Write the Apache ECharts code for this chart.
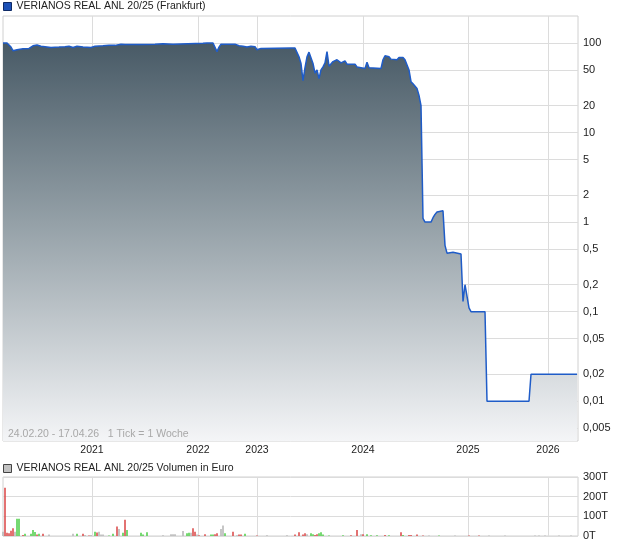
<!DOCTYPE html>
<html>
<head>
<meta charset="utf-8">
<script src="https://cdn.jsdelivr.net/npm/echarts@6/dist/echarts.min.js"></script>
<style>
  html, body { margin: 0; padding: 0; background: #fff; }
  #chart { width: 620px; height: 546px; }
</style>
</head>
<body>
<div id="chart"></div>
<script>
// x = week number since 24.02.20 (1 Tick = 1 Woche, weeks without trades are skipped)
const yearTicks = [44.5, 97.5, 127, 180, 232.5, 272.5]
const yearLabels = ['2021', '2022', '2023', '2024', '2025', '2026']

const priceLabels = [100, 50, 20, 10, 5, 2, 1, 0.5, 0.2, 0.1, 0.05, 0.02, 0.01, 0.005]

const priceWeeks = [
  0, 2, 3, 4, 5, 6, 7, 10, 13, 15, 17, 19, 20, 24, 28, 31, 33, 35, 37, 40,
  44, 46, 50, 53, 56, 59, 60, 61, 70, 76, 80, 85, 86, 100, 102, 105, 106, 107, 108, 109,
  116, 118, 120, 122, 124, 126, 127, 128, 129, 144, 146, 147, 148, 149, 150, 151, 152, 153, 154, 155,
  156, 157, 158, 159, 160, 161, 162, 163, 164, 165, 166, 167, 168, 169, 170, 171, 172, 176, 177, 178,
  179, 180, 181, 182, 183, 189, 190, 191, 192, 193, 194, 197, 198, 200, 201, 202, 203, 204, 205, 206,
  207, 208, 209, 210, 211, 214, 215, 216, 217, 218, 220, 221, 222, 225, 226, 229, 230, 231, 232, 233,
  234, 241, 242, 263, 264, 287
]
const priceValues = [
  100, 100, 97, 90, 82, 80, 84, 86, 87, 93, 95, 92, 89, 89, 90, 91, 92, 89, 92, 90,
  89, 92, 93, 94, 94, 97, 99, 96, 96, 97, 98, 97, 99, 99, 100, 100, 95, 80, 90, 97,
  97, 93, 92, 90, 92, 91, 84, 86, 87, 88, 88, 84, 70, 59, 38, 53, 70, 79, 77, 59,
  46, 50, 40, 50, 54, 60, 80, 55, 55, 62, 64, 65, 65, 60, 60, 63, 58, 58, 54, 55,
  53, 52, 52, 61, 53, 52, 65, 72, 75, 70, 66, 65, 69, 69, 65, 62, 50, 37, 35, 35,
  31, 26, 20, 1.1, 1.0, 1.0, 1.12, 1.22, 1.3, 1.34, 1.34, 0.55, 0.45, 0.46, 0.45, 0.44, 0.13, 0.2, 0.2, 0.11,
  0.1, 0.1, 0.01, 0.01, 0.02, 0.02
]

// volume in Euro, direction: u = up (green), d = down (red), n = unchanged (grey)
const volWeeks = [
  0, 1, 2, 3, 4, 5, 6, 7, 8, 10, 11, 14, 15, 16, 17, 18, 20, 23, 35, 37,
  40, 41, 43, 44, 46, 47, 48, 49, 50, 53, 55, 57, 58, 60, 61, 62, 69, 70, 72, 80,
  84, 85, 86, 90, 92, 93, 94, 95, 96, 97, 98, 101, 104, 105, 106, 107, 109, 110, 111, 115,
  117, 118, 119, 121, 127, 132, 142, 146, 148, 150, 151, 152, 154, 155, 156, 157, 158, 159, 160, 163,
  170, 174, 177, 179, 180, 182, 184, 187, 191, 193, 199, 200, 203, 204, 207, 210, 213, 218, 226, 233,
  238, 243, 251, 266, 268, 271, 278, 284
]
const volValues = [
  22000, 245000, 17000, 14000, 27000, 40000, 22000, 88000, 88000, 5000, 12000, 12000, 31000, 20000, 7000, 12000, 12000, 7000, 12000, 12000,
  12000, 5000, 3000, 5000, 22000, 18000, 22000, 7000, 7000, 3000, 12000, 48000, 36000, 17000, 82000, 31000, 17000, 8000, 19000, 4000,
  9000, 9000, 9000, 25000, 14000, 17000, 17000, 39000, 22000, 8000, 4000, 9000, 8000, 8000, 9000, 14000, 36000, 53000, 14000, 22000,
  4000, 8000, 8000, 11000, 2000, 4000, 4000, 8000, 19000, 8000, 14000, 9000, 14000, 9000, 5000, 9000, 14000, 19000, 8000, 3000,
  4000, 4000, 31000, 9000, 9000, 9000, 4000, 4000, 5000, 4000, 19000, 5000, 5000, 5000, 8000, 3000, 3000, 2000, 2000, 2000,
  2000, 2000, 2000, 2000, 2000, 2000, 2000, 2000
]
const volDir = [
  'n', 'd', 'd', 'd', 'd', 'd', 'n', 'u', 'u', 'd', 'u', 'u', 'u', 'u', 'd', 'u', 'd', 'n', 'n', 'u',
  'd', 'n', 'd', 'n', 'u', 'd', 'n', 'n', 'n', 'u', 'u', 'd', 'n', 'u', 'd', 'u', 'u', 'u', 'u', 'n',
  'n', 'n', 'n', 'n', 'u', 'u', 'n', 'd', 'd', 'n', 'd', 'd', 'u', 'u', 'd', 'd', 'n', 'n', 'u', 'd',
  'n', 'd', 'd', 'u', 'd', 'n', 'n', 'd', 'd', 'd', 'd', 'n', 'u', 'u', 'd', 'd', 'u', 'u', 'u', 'u',
  'u', 'd', 'd', 'n', 'd', 'u', 'u', 'u', 'd', 'u', 'd', 'u', 'd', 'd', 'd', 'd', 'n', 'u', 'n', 'd',
  'd', 'n', 'n', 'n', 'n', 'n', 'n', 'n'
]

const FONT = '"Liberation Sans", Arial, sans-serif'
const priceName = 'VERIANOS REAL ANL 20/25 (Frankfurt)'
const volumeName = 'VERIANOS REAL ANL 20/25 Volumen in Euro'
const dirColor = { u: '#55d04f', d: '#dc4f4f', n: '#b8b8b8' }
const gridColor = '#dcdcdc'

const yearLabel = v => {
  const i = yearTicks.indexOf(v)
  return i >= 0 ? yearLabels[i] : ''
}

const chart = echarts.init(document.getElementById('chart'))

const legendBase = {
  left: 3,
  padding: 0,
  icon: 'rect',
  itemWidth: 8,
  itemHeight: 8,
  selectedMode: false,
  textStyle: { fontSize: 10.5, color: '#222', fontFamily: FONT }
}

const option = {
  animation: false,
  textStyle: { fontFamily: FONT },
  legend: [
    {
      ...legendBase,
      top: 1,
      data: [{ name: priceName, itemStyle: { color: '#1c50b6', borderColor: '#0f2a66', borderWidth: 1 } }]
    },
    {
      ...legendBase,
      top: 463,
      data: [{ name: volumeName, itemStyle: { color: '#c2c2c2', borderColor: '#444', borderWidth: 1 } }]
    }
  ],
  grid: [
    { left: 3, right: 42, top: 16, bottom: 105, show: true, borderColor: '#d0d0d0', borderWidth: 1 },
    { left: 3, right: 42, top: 477, bottom: 10, show: true, borderColor: '#d0d0d0', borderWidth: 1 }
  ],
  xAxis: [
    {
      type: 'value',
      gridIndex: 0,
      min: 0,
      max: 287.5,
      axisLine: { show: false },
      axisTick: { show: false, customValues: yearTicks },
      axisLabel: { customValues: yearTicks, formatter: yearLabel, margin: 4, fontSize: 10.5, color: '#222', fontFamily: FONT },
      splitLine: { show: true, lineStyle: { color: gridColor, width: 1 } }
    },
    {
      type: 'value',
      gridIndex: 1,
      min: 0,
      max: 287.5,
      axisLine: { show: false },
      axisTick: { show: false, customValues: yearTicks },
      axisLabel: { show: false, customValues: yearTicks },
      splitLine: { show: true, lineStyle: { color: gridColor, width: 1 } }
    }
  ],
  yAxis: [
    {
      type: 'log',
      gridIndex: 0,
      position: 'right',
      logBase: 10,
      min: 0.0036,
      max: 200,
      axisLine: { show: false },
      axisTick: { show: false, customValues: priceLabels },
      axisLabel: {
        customValues: priceLabels,
        formatter: v => String(v).replace('.', ','),
        margin: 5,
        fontSize: 11,
        color: '#222',
        fontFamily: FONT
      },
      splitLine: { show: true, lineStyle: { color: gridColor, width: 1 } }
    },
    {
      type: 'value',
      gridIndex: 1,
      position: 'right',
      min: 0,
      max: 300000,
      interval: 100000,
      axisLine: { show: false },
      axisTick: { show: false },
      axisLabel: {
        formatter: v => (v / 1000) + 'T',
        margin: 5,
        fontSize: 11,
        color: '#222',
        fontFamily: FONT
      },
      splitLine: { show: true, lineStyle: { color: gridColor, width: 1 } }
    }
  ],
  graphic: [
    {
      type: 'text',
      left: 8,
      top: 429,
      z: 100,
      silent: true,
      style: {
        text: '24.02.20 - 17.04.26   1 Tick = 1 Woche',
        fill: '#a8a8a8',
        font: '10.5px ' + FONT
      }
    }
  ],
  series: [
    {
      name: priceName,
      type: 'line',
      xAxisIndex: 0,
      yAxisIndex: 0,
      data: priceWeeks.map((w, i) => [w, priceValues[i]]),
      showSymbol: false,
      itemStyle: { color: '#1c50b6' },
      lineStyle: { color: '#1f5cc8', width: 1.5 },
      areaStyle: {
        origin: 'start',
        opacity: 1,
        color: new echarts.graphic.LinearGradient(0, 0, 0, 1, [
          { offset: 0, color: '#485a66' },
          { offset: 0.45, color: '#94a0a7' },
          { offset: 1, color: '#f4f5f7' }
        ])
      }
    },
    {
      name: volumeName,
      type: 'bar',
      xAxisIndex: 1,
      yAxisIndex: 1,
      barWidth: 1.6,
      itemStyle: { color: '#c2c2c2', borderWidth: 0, opacity: 1 },
      data: volWeeks.map((w, i) => ({
        value: [w, volValues[i]],
        itemStyle: { color: dirColor[volDir[i]] }
      }))
    }
  ]
}

chart.setOption(option)
</script>
</body>
</html>
